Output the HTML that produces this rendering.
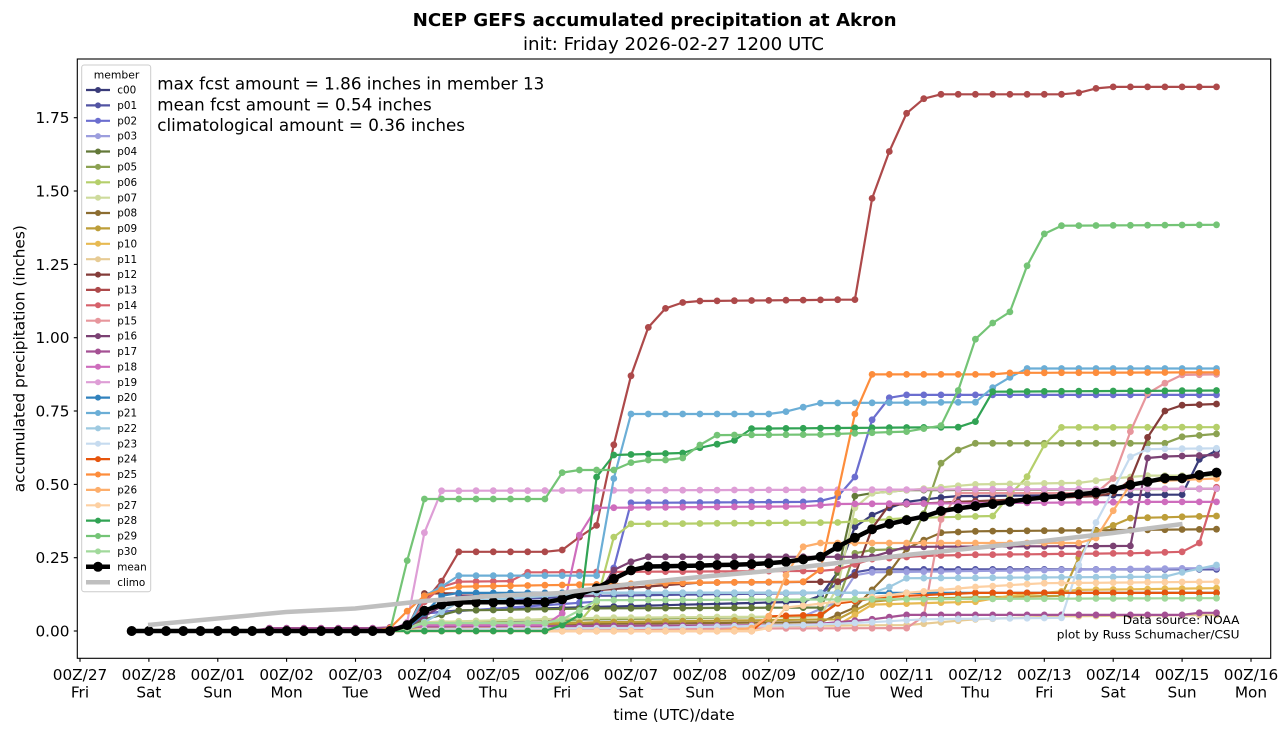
<!DOCTYPE html>
<html>
<head>
<meta charset="utf-8">
<style>
html,body{margin:0;padding:0;background:#fff;}
svg{display:block;}
text{font-family:"DejaVu Sans","Liberation Sans",sans-serif;fill:#000;}
</style>
</head>
<body>
<svg id="chart" xmlns="http://www.w3.org/2000/svg" width="1288" height="733" viewBox="0 0 1288 733">
<rect x="0" y="0" width="1288" height="733" fill="#fff"/>
<defs>
  <clipPath id="clip"><rect x="77.3" y="59" width="1193.4" height="599.3"/></clipPath>
</defs>

<!-- titles -->
<text x="654.6" y="26" text-anchor="middle" font-size="18" font-weight="bold" textLength="484" lengthAdjust="spacingAndGlyphs">NCEP GEFS accumulated precipitation at Akron</text>
<text x="673.5" y="50" text-anchor="middle" font-size="18" textLength="301" lengthAdjust="spacingAndGlyphs">init: Friday 2026-02-27 1200 UTC</text>

<!-- series -->
<g clip-path="url(#clip)">
  <g id="members"></g>
  <g id="meang"></g>
  <polyline fill="none" stroke="#bfbfbf" stroke-width="4.5" stroke-linejoin="round" points="148,625 217.4,618.5 286.2,612 355.1,608.5 424,601 492.9,596 561.8,593 630.6,584 699.5,577 768.4,571 837.3,563 906.2,555 975,548 1043.9,541 1112.8,533 1182.5,524"/>
</g>

<!-- axes frame -->
<rect x="77.3" y="59" width="1193.4" height="599.3" fill="none" stroke="#000" stroke-width="1.1"/>

<!-- y ticks -->
<g stroke="#000" stroke-width="1.1">
  <line x1="73.8" x2="77.3" y1="631" y2="631"/>
  <line x1="73.8" x2="77.3" y1="557.7" y2="557.7"/>
  <line x1="73.8" x2="77.3" y1="484.4" y2="484.4"/>
  <line x1="73.8" x2="77.3" y1="411.0" y2="411.0"/>
  <line x1="73.8" x2="77.3" y1="337.7" y2="337.7"/>
  <line x1="73.8" x2="77.3" y1="264.4" y2="264.4"/>
  <line x1="73.8" x2="77.3" y1="191.0" y2="191.0"/>
  <line x1="73.8" x2="77.3" y1="117.7" y2="117.7"/>
</g>
<g font-size="15.3" text-anchor="end">
  <text x="69.5" y="636.5">0.00</text>
  <text x="69.5" y="563.2">0.25</text>
  <text x="69.5" y="489.9">0.50</text>
  <text x="69.5" y="416.5">0.75</text>
  <text x="69.5" y="343.2">1.00</text>
  <text x="69.5" y="269.9">1.25</text>
  <text x="69.5" y="196.5">1.50</text>
  <text x="69.5" y="123.2">1.75</text>
</g>
<text transform="translate(24.5,358.7) rotate(-90)" text-anchor="middle" font-size="15.3" textLength="267" lengthAdjust="spacingAndGlyphs">accumulated precipitation (inches)</text>

<!-- x ticks -->
<g stroke="#000" stroke-width="1.1">
  <line x1="80" x2="80" y1="658.3" y2="661.8"/>
  <line x1="148.9" x2="148.9" y1="658.3" y2="661.8"/>
  <line x1="217.8" x2="217.8" y1="658.3" y2="661.8"/>
  <line x1="286.6" x2="286.6" y1="658.3" y2="661.8"/>
  <line x1="355.5" x2="355.5" y1="658.3" y2="661.8"/>
  <line x1="424.4" x2="424.4" y1="658.3" y2="661.8"/>
  <line x1="493.3" x2="493.3" y1="658.3" y2="661.8"/>
  <line x1="562.2" x2="562.2" y1="658.3" y2="661.8"/>
  <line x1="631.0" x2="631.0" y1="658.3" y2="661.8"/>
  <line x1="699.9" x2="699.9" y1="658.3" y2="661.8"/>
  <line x1="768.8" x2="768.8" y1="658.3" y2="661.8"/>
  <line x1="837.7" x2="837.7" y1="658.3" y2="661.8"/>
  <line x1="906.6" x2="906.6" y1="658.3" y2="661.8"/>
  <line x1="975.4" x2="975.4" y1="658.3" y2="661.8"/>
  <line x1="1044.3" x2="1044.3" y1="658.3" y2="661.8"/>
  <line x1="1113.2" x2="1113.2" y1="658.3" y2="661.8"/>
  <line x1="1182.1" x2="1182.1" y1="658.3" y2="661.8"/>
  <line x1="1251.0" x2="1251.0" y1="658.3" y2="661.8"/>
</g>
<g font-size="15.3" text-anchor="middle">
  <text x="80" y="680">00Z/27</text><text x="80" y="697.5">Fri</text>
  <text x="148.9" y="680">00Z/28</text><text x="148.9" y="697.5">Sat</text>
  <text x="217.8" y="680">00Z/01</text><text x="217.8" y="697.5">Sun</text>
  <text x="286.6" y="680">00Z/02</text><text x="286.6" y="697.5">Mon</text>
  <text x="355.5" y="680">00Z/03</text><text x="355.5" y="697.5">Tue</text>
  <text x="424.4" y="680">00Z/04</text><text x="424.4" y="697.5">Wed</text>
  <text x="493.3" y="680">00Z/05</text><text x="493.3" y="697.5">Thu</text>
  <text x="562.2" y="680">00Z/06</text><text x="562.2" y="697.5">Fri</text>
  <text x="631.0" y="680">00Z/07</text><text x="631.0" y="697.5">Sat</text>
  <text x="699.9" y="680">00Z/08</text><text x="699.9" y="697.5">Sun</text>
  <text x="768.8" y="680">00Z/09</text><text x="768.8" y="697.5">Mon</text>
  <text x="837.7" y="680">00Z/10</text><text x="837.7" y="697.5">Tue</text>
  <text x="906.6" y="680">00Z/11</text><text x="906.6" y="697.5">Wed</text>
  <text x="975.4" y="680">00Z/12</text><text x="975.4" y="697.5">Thu</text>
  <text x="1044.3" y="680">00Z/13</text><text x="1044.3" y="697.5">Fri</text>
  <text x="1113.2" y="680">00Z/14</text><text x="1113.2" y="697.5">Sat</text>
  <text x="1182.1" y="680">00Z/15</text><text x="1182.1" y="697.5">Sun</text>
  <text x="1251.0" y="680">00Z/16</text><text x="1251.0" y="697.5">Mon</text>
</g>
<text x="674" y="720" text-anchor="middle" font-size="15.3">time (UTC)/date</text>

<!-- annotations -->
<g font-size="16.7">
  <text x="157.3" y="89.5" textLength="387" lengthAdjust="spacingAndGlyphs">max fcst amount = 1.86 inches in member 13</text>
  <text x="157.3" y="110.3" textLength="274.4" lengthAdjust="spacingAndGlyphs">mean fcst amount = 0.54 inches</text>
  <text x="157.3" y="131" textLength="307.7" lengthAdjust="spacingAndGlyphs">climatological amount = 0.36 inches</text>
</g>
<g font-size="11.1" text-anchor="end">
  <text x="1239.5" y="624" textLength="116.7" lengthAdjust="spacingAndGlyphs">Data source: NOAA</text>
  <text x="1239.5" y="638.5" textLength="182.7" lengthAdjust="spacingAndGlyphs">plot by Russ Schumacher/CSU</text>
</g>

<!-- legend -->
<rect x="81.7" y="65" width="69" height="526.7" rx="2.5" ry="2.5" fill="#fff" fill-opacity="0.8" stroke="#cccccc" stroke-width="1"/>
<text x="116.5" y="78.3" text-anchor="middle" font-size="10.8">member</text>
<g stroke-width="2.2">
  <line x1="86" x2="110" y1="90.0" y2="90.0" stroke="#393b79"/><circle cx="98" cy="90.0" r="3" fill="#393b79"/>
  <line x1="86" x2="110" y1="105.4" y2="105.4" stroke="#5254a3"/><circle cx="98" cy="105.4" r="3" fill="#5254a3"/>
  <line x1="86" x2="110" y1="120.8" y2="120.8" stroke="#6b6ecf"/><circle cx="98" cy="120.8" r="3" fill="#6b6ecf"/>
  <line x1="86" x2="110" y1="136.1" y2="136.1" stroke="#9c9ede"/><circle cx="98" cy="136.1" r="3" fill="#9c9ede"/>
  <line x1="86" x2="110" y1="151.5" y2="151.5" stroke="#637939"/><circle cx="98" cy="151.5" r="3" fill="#637939"/>
  <line x1="86" x2="110" y1="166.9" y2="166.9" stroke="#8ca252"/><circle cx="98" cy="166.9" r="3" fill="#8ca252"/>
  <line x1="86" x2="110" y1="182.3" y2="182.3" stroke="#b5cf6b"/><circle cx="98" cy="182.3" r="3" fill="#b5cf6b"/>
  <line x1="86" x2="110" y1="197.7" y2="197.7" stroke="#cedb9c"/><circle cx="98" cy="197.7" r="3" fill="#cedb9c"/>
  <line x1="86" x2="110" y1="213.0" y2="213.0" stroke="#8c6d31"/><circle cx="98" cy="213.0" r="3" fill="#8c6d31"/>
  <line x1="86" x2="110" y1="228.4" y2="228.4" stroke="#bd9e39"/><circle cx="98" cy="228.4" r="3" fill="#bd9e39"/>
  <line x1="86" x2="110" y1="243.8" y2="243.8" stroke="#e7ba52"/><circle cx="98" cy="243.8" r="3" fill="#e7ba52"/>
  <line x1="86" x2="110" y1="259.2" y2="259.2" stroke="#e7cb94"/><circle cx="98" cy="259.2" r="3" fill="#e7cb94"/>
  <line x1="86" x2="110" y1="274.6" y2="274.6" stroke="#843c39"/><circle cx="98" cy="274.6" r="3" fill="#843c39"/>
  <line x1="86" x2="110" y1="289.9" y2="289.9" stroke="#ad494a"/><circle cx="98" cy="289.9" r="3" fill="#ad494a"/>
  <line x1="86" x2="110" y1="305.3" y2="305.3" stroke="#d6616b"/><circle cx="98" cy="305.3" r="3" fill="#d6616b"/>
  <line x1="86" x2="110" y1="320.7" y2="320.7" stroke="#e7969c"/><circle cx="98" cy="320.7" r="3" fill="#e7969c"/>
  <line x1="86" x2="110" y1="336.1" y2="336.1" stroke="#7b4173"/><circle cx="98" cy="336.1" r="3" fill="#7b4173"/>
  <line x1="86" x2="110" y1="351.5" y2="351.5" stroke="#a55194"/><circle cx="98" cy="351.5" r="3" fill="#a55194"/>
  <line x1="86" x2="110" y1="366.8" y2="366.8" stroke="#ce6dbd"/><circle cx="98" cy="366.8" r="3" fill="#ce6dbd"/>
  <line x1="86" x2="110" y1="382.2" y2="382.2" stroke="#de9ed6"/><circle cx="98" cy="382.2" r="3" fill="#de9ed6"/>
  <line x1="86" x2="110" y1="397.6" y2="397.6" stroke="#3182bd"/><circle cx="98" cy="397.6" r="3" fill="#3182bd"/>
  <line x1="86" x2="110" y1="413.0" y2="413.0" stroke="#6baed6"/><circle cx="98" cy="413.0" r="3" fill="#6baed6"/>
  <line x1="86" x2="110" y1="428.4" y2="428.4" stroke="#9ecae1"/><circle cx="98" cy="428.4" r="3" fill="#9ecae1"/>
  <line x1="86" x2="110" y1="443.7" y2="443.7" stroke="#c6dbef"/><circle cx="98" cy="443.7" r="3" fill="#c6dbef"/>
  <line x1="86" x2="110" y1="459.1" y2="459.1" stroke="#e6550d"/><circle cx="98" cy="459.1" r="3" fill="#e6550d"/>
  <line x1="86" x2="110" y1="474.5" y2="474.5" stroke="#fd8d3c"/><circle cx="98" cy="474.5" r="3" fill="#fd8d3c"/>
  <line x1="86" x2="110" y1="489.9" y2="489.9" stroke="#fdae6b"/><circle cx="98" cy="489.9" r="3" fill="#fdae6b"/>
  <line x1="86" x2="110" y1="505.3" y2="505.3" stroke="#fdd0a2"/><circle cx="98" cy="505.3" r="3" fill="#fdd0a2"/>
  <line x1="86" x2="110" y1="520.6" y2="520.6" stroke="#31a354"/><circle cx="98" cy="520.6" r="3" fill="#31a354"/>
  <line x1="86" x2="110" y1="536.0" y2="536.0" stroke="#74c476"/><circle cx="98" cy="536.0" r="3" fill="#74c476"/>
  <line x1="86" x2="110" y1="551.4" y2="551.4" stroke="#a1d99b"/><circle cx="98" cy="551.4" r="3" fill="#a1d99b"/>
  <line x1="86" x2="110" y1="566.8" y2="566.8" stroke="#000" stroke-width="4.5"/><circle cx="98" cy="566.8" r="5" fill="#000"/>
  <line x1="86" x2="110" y1="582.2" y2="582.2" stroke="#bfbfbf" stroke-width="4.5"/>
</g>
<g font-size="10.4">
  <text x="117.3" y="93.6">c00</text>
  <text x="117.3" y="109.0">p01</text>
  <text x="117.3" y="124.4">p02</text>
  <text x="117.3" y="139.7">p03</text>
  <text x="117.3" y="155.1">p04</text>
  <text x="117.3" y="170.5">p05</text>
  <text x="117.3" y="185.9">p06</text>
  <text x="117.3" y="201.3">p07</text>
  <text x="117.3" y="216.6">p08</text>
  <text x="117.3" y="232.0">p09</text>
  <text x="117.3" y="247.4">p10</text>
  <text x="117.3" y="262.8">p11</text>
  <text x="117.3" y="278.2">p12</text>
  <text x="117.3" y="293.5">p13</text>
  <text x="117.3" y="308.9">p14</text>
  <text x="117.3" y="324.3">p15</text>
  <text x="117.3" y="339.7">p16</text>
  <text x="117.3" y="355.1">p17</text>
  <text x="117.3" y="370.4">p18</text>
  <text x="117.3" y="385.8">p19</text>
  <text x="117.3" y="401.2">p20</text>
  <text x="117.3" y="416.6">p21</text>
  <text x="117.3" y="432.0">p22</text>
  <text x="117.3" y="447.3">p23</text>
  <text x="117.3" y="462.7">p24</text>
  <text x="117.3" y="478.1">p25</text>
  <text x="117.3" y="493.5">p26</text>
  <text x="117.3" y="508.9">p27</text>
  <text x="117.3" y="524.2">p28</text>
  <text x="117.3" y="539.6">p29</text>
  <text x="117.3" y="555.0">p30</text>
  <text x="117.3" y="570.4">mean</text>
  <text x="117.3" y="585.8">climo</text>
</g>
</svg>

<script>
(function(){
  var X = function(i){ return 114.44 + 17.22*i; };
  var Y = function(v){ return 631 - v*293.3; };
  var cols = ['#393b79','#5254a3','#6b6ecf','#9c9ede','#637939','#8ca252','#b5cf6b','#cedb9c','#8c6d31','#bd9e39','#e7ba52','#e7cb94','#843c39','#ad494a','#d6616b','#e7969c','#7b4173','#a55194','#ce6dbd','#de9ed6','#3182bd','#6baed6','#9ecae1','#c6dbef','#e6550d','#fd8d3c','#fdae6b','#fdd0a2','#31a354','#74c476','#a1d99b'];
  var S = [
    [[17,0.01],[18,0.06],[20,0.07],[40,0.1],[41,0.12],[42,0.2],[43,0.355],[44,0.395],[45,0.42],[46,0.44],[48,0.455],[49,0.46],[62,0.465],[63,0.585],[64,0.615]], // c00
    [[17,0.01],[18,0.03],[20,0.1],[28,0.12],[41,0.13],[42,0.16],[43,0.2],[44,0.21],[64,0.21]], // p01
    [[17,0.01],[18,0.06],[28,0.1],[29,0.215],[30,0.437],[40,0.44],[41,0.444],[42,0.458],[43,0.525],[44,0.72],[45,0.795],[46,0.805],[64,0.805]], // p02
    [[17,0.005],[18,0.03],[40,0.05],[42,0.1],[43,0.19],[44,0.2],[64,0.215]], // p03
    [[17,0.01],[18,0.04],[20,0.07],[28,0.077],[41,0.08],[42,0.2],[43,0.46],[44,0.47],[46,0.48],[64,0.485]], // p04
    [[17,0.01],[18,0.03],[28,0.04],[41,0.05],[42,0.1],[43,0.265],[44,0.276],[46,0.28],[47,0.4],[48,0.572],[49,0.617],[50,0.64],[61,0.64],[62,0.662],[64,0.672]], // p05
    [[17,0.01],[18,0.02],[27,0.03],[28,0.1],[29,0.32],[30,0.365],[42,0.37],[46,0.385],[51,0.392],[52,0.464],[53,0.526],[54,0.634],[55,0.694],[64,0.695]], // p06
    [[17,0.01],[18,0.03],[28,0.045],[41,0.05],[42,0.15],[43,0.42],[44,0.47],[46,0.48],[50,0.5],[56,0.505],[58,0.52],[60,0.53],[64,0.53]], // p07
    [[17,0.005],[18,0.02],[41,0.03],[43,0.08],[45,0.2],[46,0.28],[47,0.31],[48,0.335],[50,0.34],[64,0.347]], // p08
    [[17,0.005],[18,0.01],[28,0.03],[42,0.04],[44,0.1],[46,0.11],[55,0.12],[56,0.25],[57,0.34],[58,0.36],[59,0.385],[64,0.392]], // p09
    [[18,0.01],[42,0.02],[44,0.09],[50,0.1],[52,0.12],[56,0.14],[64,0.146]], // p10
    [[18,0.01],[46,0.02],[50,0.04],[55,0.05],[64,0.055]], // p11
    [[17,0.01],[18,0.128],[26,0.13],[34,0.165],[42,0.168],[43,0.19],[44,0.35],[45,0.43],[57,0.46],[58,0.47],[59,0.515],[60,0.66],[61,0.75],[62,0.77],[64,0.774]], // p12
    [[17,0.02],[18,0.1],[19,0.17],[20,0.27],[25,0.27],[26,0.276],[27,0.32],[28,0.36],[29,0.635],[30,0.87],[31,1.035],[32,1.1],[33,1.12],[34,1.125],[43,1.13],[44,1.475],[45,1.635],[46,1.765],[47,1.815],[48,1.83],[55,1.83],[56,1.835],[57,1.85],[58,1.855],[64,1.855]], // p13
    [[17,0.01],[18,0.1],[19,0.15],[20,0.168],[23,0.17],[24,0.2],[41,0.205],[42,0.21],[44,0.245],[47,0.256],[50,0.26],[59,0.265],[62,0.27],[63,0.3],[64,0.49]], // p14
    [[18,0.005],[46,0.01],[47,0.05],[48,0.38],[49,0.47],[57,0.47],[58,0.52],[59,0.68],[60,0.81],[61,0.845],[62,0.873],[64,0.875]], // p15
    [[17,0.01],[18,0.05],[20,0.12],[28,0.12],[29,0.208],[30,0.236],[31,0.253],[44,0.253],[45,0.27],[46,0.287],[59,0.29],[60,0.59],[61,0.595],[64,0.6]], // p16
    [[8,0],[9,0.01],[15,0.01],[17,0.015],[40,0.02],[44,0.04],[46,0.055],[62,0.055],[63,0.062],[64,0.062]], // p17
    [[17,0.01],[18,0.02],[25,0.02],[26,0.06],[27,0.327],[28,0.42],[40,0.425],[42,0.433],[48,0.435],[60,0.44],[64,0.44]], // p18
    [[17,0.03],[18,0.335],[19,0.478],[64,0.485]], // p19
    [[17,0.01],[18,0.06],[19,0.12],[20,0.13],[64,0.13]], // p20
    [[17,0.01],[18,0.12],[19,0.151],[20,0.189],[28,0.189],[29,0.52],[30,0.74],[38,0.74],[39,0.748],[40,0.763],[41,0.777],[50,0.78],[51,0.83],[52,0.865],[53,0.895],[64,0.895]], // p21
    [[17,0.005],[18,0.03],[20,0.1],[28,0.13],[44,0.13],[45,0.15],[46,0.18],[61,0.185],[62,0.2],[64,0.225]], // p22
    [[18,0.005],[30,0.01],[40,0.02],[44,0.03],[47,0.04],[55,0.045],[56,0.225],[57,0.37],[58,0.48],[59,0.594],[60,0.62],[64,0.623]], // p23
    [[37,0.0],[38,0.05],[41,0.055],[42,0.094],[44,0.11],[46,0.12],[50,0.13],[64,0.13]], // p24
    [[16,0.01],[17,0.068],[18,0.12],[19,0.14],[20,0.151],[34,0.165],[40,0.168],[41,0.21],[42,0.47],[43,0.74],[44,0.875],[51,0.875],[52,0.88],[64,0.882]], // p25
    [[36,0.005],[37,0.01],[38,0.05],[39,0.19],[40,0.287],[41,0.3],[56,0.3],[57,0.317],[58,0.41],[59,0.5],[60,0.51],[64,0.52]], // p26
    [[38,0.01],[39,0.08],[42,0.1],[46,0.13],[50,0.15],[54,0.163],[64,0.168]], // p27
    [[25,0.0],[26,0.02],[27,0.055],[28,0.525],[29,0.6],[33,0.607],[34,0.625],[35,0.637],[36,0.65],[37,0.69],[49,0.695],[50,0.714],[51,0.816],[64,0.82]], // p28
    [[17,0.24],[18,0.45],[25,0.45],[26,0.54],[27,0.549],[29,0.549],[30,0.574],[31,0.583],[32,0.583],[33,0.59],[34,0.634],[35,0.668],[41,0.67],[46,0.68],[47,0.69],[48,0.7],[49,0.82],[50,0.995],[51,1.05],[52,1.088],[53,1.245],[54,1.354],[55,1.382],[64,1.385]], // p29
    [[17,0.01],[18,0.027],[25,0.027],[26,0.04],[27,0.07],[28,0.105],[64,0.112]] // p30
  ];
  function val(kp,i){
    if(i<kp[0][0]) return 0;
    for(var j=0;j<kp.length-1;j++){
      var a=kp[j][0],va=kp[j][1],b=kp[j+1][0],vb=kp[j+1][1];
      if(i>=a && i<=b){ return va+(vb-va)*(i-a)/(b-a); }
    }
    return kp[kp.length-1][1];
  }
  var html='';
  for(var s=0;s<S.length;s++){
    var pts=[], circ='';
    for(var i=1;i<=64;i++){
      var x=X(i).toFixed(1), y=Y(val(S[s],i)).toFixed(1);
      pts.push(x+','+y);
      circ+='<circle cx="'+x+'" cy="'+y+'" r="3.4"/>';
    }
    html+='<g fill="'+cols[s]+'"><polyline fill="none" stroke="'+cols[s]+'" stroke-width="2.2" stroke-linejoin="round" points="'+pts.join(' ')+'"/>'+circ+'</g>';
  }
  document.getElementById('members').innerHTML=html;

  var M=[0,0,0,0,0,0,0,0,0,0,0,0,0,0,0,0,0.02,0.069,0.09,0.097,0.098,0.098,0.098,0.098,0.098,0.108,0.125,0.146,0.178,0.207,0.22,0.221,0.222,0.223,0.225,0.226,0.228,0.231,0.236,0.244,0.253,0.287,0.318,0.347,0.365,0.378,0.39,0.409,0.418,0.426,0.433,0.441,0.449,0.456,0.46,0.466,0.472,0.483,0.498,0.509,0.521,0.521,0.532,0.54];
  var mp=[], mc='';
  for(var k=0;k<64;k++){
    var mx=X(k+1).toFixed(1), my=Y(M[k]).toFixed(1);
    mp.push(mx+','+my);
    mc+='<circle cx="'+mx+'" cy="'+my+'" r="5"/>';
  }
  document.getElementById('meang').innerHTML='<g fill="#000"><polyline fill="none" stroke="#000" stroke-width="4.5" stroke-linejoin="round" points="'+mp.join(' ')+'"/>'+mc+'</g>';
})();
</script>
</body>
</html>
